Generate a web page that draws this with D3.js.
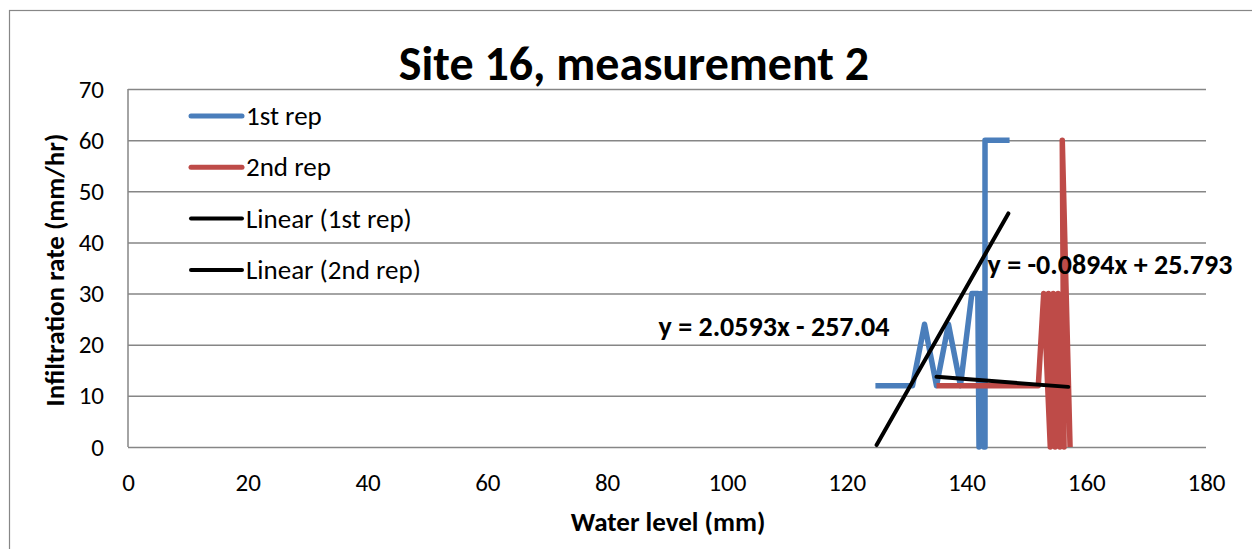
<!DOCTYPE html>
<html><head><meta charset="utf-8">
<script src="https://cdn.jsdelivr.net/npm/d3@7"></script>
<style>
html,body{margin:0;padding:0;background:#fff;}
svg{display:block;}
text{font-family:Carlito,Calibri,"Open Sans","Noto Sans",sans-serif;fill:#000;}
</style></head>
<body><svg id="c" width="1252" height="549"></svg>
<script>
// ---- data ----
const title = "Site 16, measurement 2";
const xLabel = "Water level (mm)";
const yLabel = "Infiltration rate (mm/hr)";
const xTicks = [0,20,40,60,80,100,120,140,160,180];
const yTicks = [0,10,20,30,40,50,60,70];
const rep1X = [124.8,131,133,135,137,139,140.9,141.9,142.1,142.4,142.9,143.1,143.1,147.2];
const rep1Y = [12,12,24,12,24,12,30,30,0,30,0,0,60,60];
const rep2X = [135,152,152.9,154,153.7,154.8,154.5,155.6,155.3,156.3,156,157.3];
const rep2Y = [12,12,30,0,30,0,30,0,30,0,60,0];
const trend1 = {slope:2.0593, intercept:-257.04, x0:125, x1:147, label:"y = 2.0593x - 257.04"};
const trend2 = {slope:-0.0894, intercept:25.793, x0:135, x1:157, label:"y = -0.0894x + 25.793"};
const legendNames = ["1st rep","2nd rep","Linear (1st rep)","Linear (2nd rep)"];
const colors = ["#4A7EBB","#BE4B48","#000","#000"];

// ---- chart ----
const svg = d3.select("#c");
svg.append("rect").attr("x",9.5).attr("y",10.5).attr("width",1260).attr("height",560)
  .attr("fill","#fff").attr("stroke","#878787").attr("stroke-width",1.2);

const x = d3.scaleLinear().domain([0,180]).range([128,1206]);
const y = d3.scaleLinear().domain([0,70]).range([447,89]);

// gridlines + y axis
const yAx = svg.append("g").attr("transform","translate(128,0)")
  .call(d3.axisLeft(y).tickValues(yTicks).tickSize(-(1206-128)).tickPadding(12).tickFormat(d3.format("d")));
yAx.select(".domain").remove();
yAx.selectAll(".tick line").attr("stroke","#868686").attr("stroke-width",1.5);
yAx.selectAll(".tick text").attr("font-size",25).attr("x",-24).style("font-family",null);
svg.append("line").attr("x1",128).attr("x2",128).attr("y1",y(70)).attr("y2",y(0))
  .attr("stroke","#868686").attr("stroke-width",1.5);

const xAx = svg.append("g").attr("transform","translate(0,447)")
  .call(d3.axisBottom(x).tickValues(xTicks).tickSize(0).tickPadding(26).tickFormat(d3.format("d")));
xAx.select(".domain").remove();
xAx.selectAll(".tick text").attr("font-size",25).style("font-family",null);

// series
const line = d3.line().x(d=>x(d[0])).y(d=>y(d[1]));
svg.append("path").datum(d3.zip(rep1X,rep1Y)).attr("d",line)
  .attr("fill","none").attr("stroke",colors[0]).attr("stroke-width",5.5).attr("stroke-linejoin","round");
svg.append("path").datum(d3.zip(rep2X,rep2Y)).attr("d",line)
  .attr("fill","none").attr("stroke",colors[1]).attr("stroke-width",5.5).attr("stroke-linejoin","round");

[trend1,trend2].forEach(t=>{
  const pts = [t.x0,t.x1].map(v=>[v,t.slope*v+t.intercept]);
  svg.append("path").datum(pts).attr("d",line).attr("fill","none")
    .attr("stroke","#000").attr("stroke-width",4).attr("stroke-linecap","round");
});

// equation labels
svg.append("text").attr("x",774).attr("y",336).attr("text-anchor","middle")
  .attr("font-size",28).attr("font-weight","bold").text(trend1.label);
svg.append("text").attr("x",1110).attr("y",274).attr("text-anchor","middle")
  .attr("font-size",28).attr("font-weight","bold").text(trend2.label);

// legend
legendNames.forEach((n,i)=>{
  const yy = 116 + i*51.3;
  svg.append("line").attr("x1",191).attr("x2",242).attr("y1",yy).attr("y2",yy)
    .attr("stroke",colors[i]).attr("stroke-width",i<2?5:4).attr("stroke-linecap","round");
  svg.append("text").attr("x",246).attr("y",yy+9).attr("font-size",27).text(n);
});

// titles
svg.append("text").attr("x",634).attr("y",80).attr("text-anchor","middle")
  .attr("font-size",48).attr("font-weight","bold").text(title);
svg.append("text").attr("x",668).attr("y",531).attr("text-anchor","middle")
  .attr("font-size",27).attr("font-weight","bold").text(xLabel);
svg.append("text").attr("transform","translate(64,270) rotate(-90)").attr("text-anchor","middle")
  .attr("font-size",27).attr("font-weight","bold").text(yLabel);
</script></body></html>
